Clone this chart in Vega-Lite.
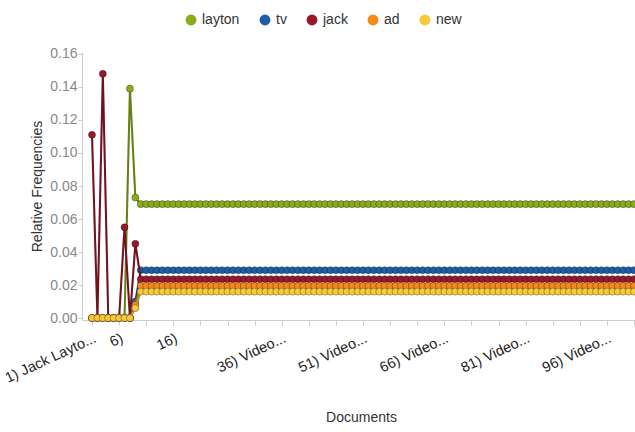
{
  "$schema": "https://vega.github.io/schema/vega-lite/v6.json",
  "width": 558,
  "height": 268,
  "autosize": {"type": "none"},
  "padding": {"left": 82, "top": 52, "right": 0, "bottom": 112},
  "background": "white",
  "config": {
    "font": "Liberation Sans",
    "view": {"stroke": null},
    "axis": {"grid": false, "labelOverlap": false, "labelFlush": false, "labelBound": false, "domainColor": "#cccccc", "tickColor": "#cccccc", "titleFontWeight": "normal", "titleColor": "#333", "titleFontSize": 14},
    "axisX": {"labelAngle": -25, "labelAlign": "right", "labelBaseline": "top", "labelFontSize": 14.5, "labelColor": "#222", "labelPadding": 6, "tickSize": 5, "titlePadding": 26},
    "axisY": {"labelFontSize": 14, "labelColor": "#888", "labelPadding": 1, "tickSize": 4, "titlePadding": 5},
    "legend": {"orient": "none", "legendX": 102, "legendY": -39, "direction": "horizontal", "symbolType": "circle", "symbolSize": 120, "symbolStrokeWidth": 0, "symbolOpacity": 1, "labelFontSize": 14, "labelColor": "#333", "labelOffset": 4, "columnPadding": 18}
  },
  "data": {
    "values": [
      {"doc": 1, "layton": 0, "tv": 0, "jack": 0.111, "ad": 0, "new": 0},
      {"doc": 2, "layton": 0, "tv": 0, "jack": 0, "ad": 0, "new": 0},
      {"doc": 3, "layton": 0, "tv": 0, "jack": 0.148, "ad": 0, "new": 0},
      {"doc": 4, "layton": 0, "tv": 0, "jack": 0, "ad": 0, "new": 0},
      {"doc": 5, "layton": 0, "tv": 0, "jack": 0, "ad": 0, "new": 0},
      {"doc": 6, "layton": 0, "tv": 0, "jack": 0, "ad": 0, "new": 0},
      {"doc": 7, "layton": 0, "tv": 0, "jack": 0.055, "ad": 0, "new": 0},
      {"doc": 8, "layton": 0.139, "tv": 0, "jack": 0, "ad": 0, "new": 0},
      {"doc": 9, "layton": 0.073, "tv": 0.010, "jack": 0.045, "ad": 0.008, "new": 0.006},
      {"doc": 10, "layton": 0.069, "tv": 0.029, "jack": 0.0235, "ad": 0.0195, "new": 0.016},
      {"doc": 11, "layton": 0.069, "tv": 0.029, "jack": 0.0235, "ad": 0.0195, "new": 0.016},
      {"doc": 12, "layton": 0.069, "tv": 0.029, "jack": 0.0235, "ad": 0.0195, "new": 0.016},
      {"doc": 13, "layton": 0.069, "tv": 0.029, "jack": 0.0235, "ad": 0.0195, "new": 0.016},
      {"doc": 14, "layton": 0.069, "tv": 0.029, "jack": 0.0235, "ad": 0.0195, "new": 0.016},
      {"doc": 15, "layton": 0.069, "tv": 0.029, "jack": 0.0235, "ad": 0.0195, "new": 0.016},
      {"doc": 16, "layton": 0.069, "tv": 0.029, "jack": 0.0235, "ad": 0.0195, "new": 0.016},
      {"doc": 17, "layton": 0.069, "tv": 0.029, "jack": 0.0235, "ad": 0.0195, "new": 0.016},
      {"doc": 18, "layton": 0.069, "tv": 0.029, "jack": 0.0235, "ad": 0.0195, "new": 0.016},
      {"doc": 19, "layton": 0.069, "tv": 0.029, "jack": 0.0235, "ad": 0.0195, "new": 0.016},
      {"doc": 20, "layton": 0.069, "tv": 0.029, "jack": 0.0235, "ad": 0.0195, "new": 0.016},
      {"doc": 21, "layton": 0.069, "tv": 0.029, "jack": 0.0235, "ad": 0.0195, "new": 0.016},
      {"doc": 22, "layton": 0.069, "tv": 0.029, "jack": 0.0235, "ad": 0.0195, "new": 0.016},
      {"doc": 23, "layton": 0.069, "tv": 0.029, "jack": 0.0235, "ad": 0.0195, "new": 0.016},
      {"doc": 24, "layton": 0.069, "tv": 0.029, "jack": 0.0235, "ad": 0.0195, "new": 0.016},
      {"doc": 25, "layton": 0.069, "tv": 0.029, "jack": 0.0235, "ad": 0.0195, "new": 0.016},
      {"doc": 26, "layton": 0.069, "tv": 0.029, "jack": 0.0235, "ad": 0.0195, "new": 0.016},
      {"doc": 27, "layton": 0.069, "tv": 0.029, "jack": 0.0235, "ad": 0.0195, "new": 0.016},
      {"doc": 28, "layton": 0.069, "tv": 0.029, "jack": 0.0235, "ad": 0.0195, "new": 0.016},
      {"doc": 29, "layton": 0.069, "tv": 0.029, "jack": 0.0235, "ad": 0.0195, "new": 0.016},
      {"doc": 30, "layton": 0.069, "tv": 0.029, "jack": 0.0235, "ad": 0.0195, "new": 0.016},
      {"doc": 31, "layton": 0.069, "tv": 0.029, "jack": 0.0235, "ad": 0.0195, "new": 0.016},
      {"doc": 32, "layton": 0.069, "tv": 0.029, "jack": 0.0235, "ad": 0.0195, "new": 0.016},
      {"doc": 33, "layton": 0.069, "tv": 0.029, "jack": 0.0235, "ad": 0.0195, "new": 0.016},
      {"doc": 34, "layton": 0.069, "tv": 0.029, "jack": 0.0235, "ad": 0.0195, "new": 0.016},
      {"doc": 35, "layton": 0.069, "tv": 0.029, "jack": 0.0235, "ad": 0.0195, "new": 0.016},
      {"doc": 36, "layton": 0.069, "tv": 0.029, "jack": 0.0235, "ad": 0.0195, "new": 0.016},
      {"doc": 37, "layton": 0.069, "tv": 0.029, "jack": 0.0235, "ad": 0.0195, "new": 0.016},
      {"doc": 38, "layton": 0.069, "tv": 0.029, "jack": 0.0235, "ad": 0.0195, "new": 0.016},
      {"doc": 39, "layton": 0.069, "tv": 0.029, "jack": 0.0235, "ad": 0.0195, "new": 0.016},
      {"doc": 40, "layton": 0.069, "tv": 0.029, "jack": 0.0235, "ad": 0.0195, "new": 0.016},
      {"doc": 41, "layton": 0.069, "tv": 0.029, "jack": 0.0235, "ad": 0.0195, "new": 0.016},
      {"doc": 42, "layton": 0.069, "tv": 0.029, "jack": 0.0235, "ad": 0.0195, "new": 0.016},
      {"doc": 43, "layton": 0.069, "tv": 0.029, "jack": 0.0235, "ad": 0.0195, "new": 0.016},
      {"doc": 44, "layton": 0.069, "tv": 0.029, "jack": 0.0235, "ad": 0.0195, "new": 0.016},
      {"doc": 45, "layton": 0.069, "tv": 0.029, "jack": 0.0235, "ad": 0.0195, "new": 0.016},
      {"doc": 46, "layton": 0.069, "tv": 0.029, "jack": 0.0235, "ad": 0.0195, "new": 0.016},
      {"doc": 47, "layton": 0.069, "tv": 0.029, "jack": 0.0235, "ad": 0.0195, "new": 0.016},
      {"doc": 48, "layton": 0.069, "tv": 0.029, "jack": 0.0235, "ad": 0.0195, "new": 0.016},
      {"doc": 49, "layton": 0.069, "tv": 0.029, "jack": 0.0235, "ad": 0.0195, "new": 0.016},
      {"doc": 50, "layton": 0.069, "tv": 0.029, "jack": 0.0235, "ad": 0.0195, "new": 0.016},
      {"doc": 51, "layton": 0.069, "tv": 0.029, "jack": 0.0235, "ad": 0.0195, "new": 0.016},
      {"doc": 52, "layton": 0.069, "tv": 0.029, "jack": 0.0235, "ad": 0.0195, "new": 0.016},
      {"doc": 53, "layton": 0.069, "tv": 0.029, "jack": 0.0235, "ad": 0.0195, "new": 0.016},
      {"doc": 54, "layton": 0.069, "tv": 0.029, "jack": 0.0235, "ad": 0.0195, "new": 0.016},
      {"doc": 55, "layton": 0.069, "tv": 0.029, "jack": 0.0235, "ad": 0.0195, "new": 0.016},
      {"doc": 56, "layton": 0.069, "tv": 0.029, "jack": 0.0235, "ad": 0.0195, "new": 0.016},
      {"doc": 57, "layton": 0.069, "tv": 0.029, "jack": 0.0235, "ad": 0.0195, "new": 0.016},
      {"doc": 58, "layton": 0.069, "tv": 0.029, "jack": 0.0235, "ad": 0.0195, "new": 0.016},
      {"doc": 59, "layton": 0.069, "tv": 0.029, "jack": 0.0235, "ad": 0.0195, "new": 0.016},
      {"doc": 60, "layton": 0.069, "tv": 0.029, "jack": 0.0235, "ad": 0.0195, "new": 0.016},
      {"doc": 61, "layton": 0.069, "tv": 0.029, "jack": 0.0235, "ad": 0.0195, "new": 0.016},
      {"doc": 62, "layton": 0.069, "tv": 0.029, "jack": 0.0235, "ad": 0.0195, "new": 0.016},
      {"doc": 63, "layton": 0.069, "tv": 0.029, "jack": 0.0235, "ad": 0.0195, "new": 0.016},
      {"doc": 64, "layton": 0.069, "tv": 0.029, "jack": 0.0235, "ad": 0.0195, "new": 0.016},
      {"doc": 65, "layton": 0.069, "tv": 0.029, "jack": 0.0235, "ad": 0.0195, "new": 0.016},
      {"doc": 66, "layton": 0.069, "tv": 0.029, "jack": 0.0235, "ad": 0.0195, "new": 0.016},
      {"doc": 67, "layton": 0.069, "tv": 0.029, "jack": 0.0235, "ad": 0.0195, "new": 0.016},
      {"doc": 68, "layton": 0.069, "tv": 0.029, "jack": 0.0235, "ad": 0.0195, "new": 0.016},
      {"doc": 69, "layton": 0.069, "tv": 0.029, "jack": 0.0235, "ad": 0.0195, "new": 0.016},
      {"doc": 70, "layton": 0.069, "tv": 0.029, "jack": 0.0235, "ad": 0.0195, "new": 0.016},
      {"doc": 71, "layton": 0.069, "tv": 0.029, "jack": 0.0235, "ad": 0.0195, "new": 0.016},
      {"doc": 72, "layton": 0.069, "tv": 0.029, "jack": 0.0235, "ad": 0.0195, "new": 0.016},
      {"doc": 73, "layton": 0.069, "tv": 0.029, "jack": 0.0235, "ad": 0.0195, "new": 0.016},
      {"doc": 74, "layton": 0.069, "tv": 0.029, "jack": 0.0235, "ad": 0.0195, "new": 0.016},
      {"doc": 75, "layton": 0.069, "tv": 0.029, "jack": 0.0235, "ad": 0.0195, "new": 0.016},
      {"doc": 76, "layton": 0.069, "tv": 0.029, "jack": 0.0235, "ad": 0.0195, "new": 0.016},
      {"doc": 77, "layton": 0.069, "tv": 0.029, "jack": 0.0235, "ad": 0.0195, "new": 0.016},
      {"doc": 78, "layton": 0.069, "tv": 0.029, "jack": 0.0235, "ad": 0.0195, "new": 0.016},
      {"doc": 79, "layton": 0.069, "tv": 0.029, "jack": 0.0235, "ad": 0.0195, "new": 0.016},
      {"doc": 80, "layton": 0.069, "tv": 0.029, "jack": 0.0235, "ad": 0.0195, "new": 0.016},
      {"doc": 81, "layton": 0.069, "tv": 0.029, "jack": 0.0235, "ad": 0.0195, "new": 0.016},
      {"doc": 82, "layton": 0.069, "tv": 0.029, "jack": 0.0235, "ad": 0.0195, "new": 0.016},
      {"doc": 83, "layton": 0.069, "tv": 0.029, "jack": 0.0235, "ad": 0.0195, "new": 0.016},
      {"doc": 84, "layton": 0.069, "tv": 0.029, "jack": 0.0235, "ad": 0.0195, "new": 0.016},
      {"doc": 85, "layton": 0.069, "tv": 0.029, "jack": 0.0235, "ad": 0.0195, "new": 0.016},
      {"doc": 86, "layton": 0.069, "tv": 0.029, "jack": 0.0235, "ad": 0.0195, "new": 0.016},
      {"doc": 87, "layton": 0.069, "tv": 0.029, "jack": 0.0235, "ad": 0.0195, "new": 0.016},
      {"doc": 88, "layton": 0.069, "tv": 0.029, "jack": 0.0235, "ad": 0.0195, "new": 0.016},
      {"doc": 89, "layton": 0.069, "tv": 0.029, "jack": 0.0235, "ad": 0.0195, "new": 0.016},
      {"doc": 90, "layton": 0.069, "tv": 0.029, "jack": 0.0235, "ad": 0.0195, "new": 0.016},
      {"doc": 91, "layton": 0.069, "tv": 0.029, "jack": 0.0235, "ad": 0.0195, "new": 0.016},
      {"doc": 92, "layton": 0.069, "tv": 0.029, "jack": 0.0235, "ad": 0.0195, "new": 0.016},
      {"doc": 93, "layton": 0.069, "tv": 0.029, "jack": 0.0235, "ad": 0.0195, "new": 0.016},
      {"doc": 94, "layton": 0.069, "tv": 0.029, "jack": 0.0235, "ad": 0.0195, "new": 0.016},
      {"doc": 95, "layton": 0.069, "tv": 0.029, "jack": 0.0235, "ad": 0.0195, "new": 0.016},
      {"doc": 96, "layton": 0.069, "tv": 0.029, "jack": 0.0235, "ad": 0.0195, "new": 0.016},
      {"doc": 97, "layton": 0.069, "tv": 0.029, "jack": 0.0235, "ad": 0.0195, "new": 0.016},
      {"doc": 98, "layton": 0.069, "tv": 0.029, "jack": 0.0235, "ad": 0.0195, "new": 0.016},
      {"doc": 99, "layton": 0.069, "tv": 0.029, "jack": 0.0235, "ad": 0.0195, "new": 0.016},
      {"doc": 100, "layton": 0.069, "tv": 0.029, "jack": 0.0235, "ad": 0.0195, "new": 0.016},
      {"doc": 101, "layton": 0.069, "tv": 0.029, "jack": 0.0235, "ad": 0.0195, "new": 0.016}
    ]
  },
  "repeat": {"layer": ["layton", "tv", "jack", "ad", "new"]},
  "spec": {
    "layer": [
      {
        "mark": {"type": "line", "strokeWidth": 2},
        "encoding": {
          "x": {
            "field": "doc", "type": "quantitative",
            "scale": {"domain": [-0.845, 102.1], "nice": false, "zero": false},
            "axis": {
              "title": "Documents",
              "values": [1, 6, 11, 16, 21, 26, 31, 36, 41, 46, 51, 56, 61, 66, 71, 76, 81, 86, 91, 96, 101],
              "labelExpr": "datum.value==1?'1) Jack Layto...':datum.value==6?'6)':datum.value==16?'16)':(datum.value==36||datum.value==51||datum.value==66||datum.value==81||datum.value==96)?(datum.value+') Video...'):''"
            }
          },
          "y": {
            "field": {"repeat": "layer"}, "type": "quantitative",
            "scale": {"domain": [-0.0012, 0.1612], "nice": false, "zero": false},
            "axis": {
              "title": "Relative Frequencies",
              "values": [0, 0.02, 0.04, 0.06, 0.08, 0.1, 0.12, 0.14, 0.16], "format": ".2f"
            }
          },
          "color": {
            "datum": {"repeat": "layer"},
            "type": "nominal",
            "scale": {"domain": ["layton", "tv", "jack", "ad", "new"], "range": ["#8aab1c", "#1d5ea5", "#961a2c", "#f58a1a", "#f9c93a"]},
            "title": null
          }
        }
      },
      {
        "mark": {"type": "line", "strokeWidth": 2, "color": "#000000", "opacity": 0.25},
        "encoding": {
          "x": {
            "field": "doc", "type": "quantitative",
            "axis": {
              "title": "Documents",
              "values": [1, 6, 11, 16, 21, 26, 31, 36, 41, 46, 51, 56, 61, 66, 71, 76, 81, 86, 91, 96, 101],
              "labelExpr": "datum.value==1?'1) Jack Layto...':datum.value==6?'6)':datum.value==16?'16)':(datum.value==36||datum.value==51||datum.value==66||datum.value==81||datum.value==96)?(datum.value+') Video...'):''"
            }
          },
          "y": {
            "field": {"repeat": "layer"}, "type": "quantitative",
            "axis": {
              "title": "Relative Frequencies",
              "values": [0, 0.02, 0.04, 0.06, 0.08, 0.1, 0.12, 0.14, 0.16], "format": ".2f"
            }
          }
        }
      },
      {
        "mark": {"type": "point", "filled": true, "size": 50, "strokeWidth": 1, "opacity": 1, "stroke": "#000000", "strokeOpacity": 0.3},
        "encoding": {
          "x": {
            "field": "doc", "type": "quantitative",
            "axis": {
              "title": "Documents",
              "values": [1, 6, 11, 16, 21, 26, 31, 36, 41, 46, 51, 56, 61, 66, 71, 76, 81, 86, 91, 96, 101],
              "labelExpr": "datum.value==1?'1) Jack Layto...':datum.value==6?'6)':datum.value==16?'16)':(datum.value==36||datum.value==51||datum.value==66||datum.value==81||datum.value==96)?(datum.value+') Video...'):''"
            }
          },
          "y": {
            "field": {"repeat": "layer"}, "type": "quantitative",
            "axis": {
              "title": "Relative Frequencies",
              "values": [0, 0.02, 0.04, 0.06, 0.08, 0.1, 0.12, 0.14, 0.16], "format": ".2f"
            }
          },
          "color": {"datum": {"repeat": "layer"}, "type": "nominal", "title": null}
        }
      }
    ]
  }
}
